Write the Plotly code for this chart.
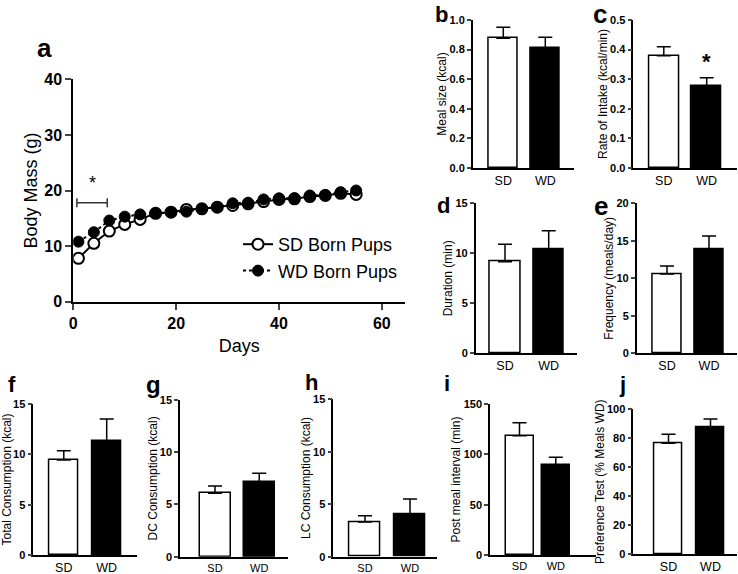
import plotly.graph_objects as go

W, H = 738, 574
FONT = "Liberation Sans, Arial, sans-serif"

# ---------------- data ----------------
days = [1, 4, 7, 10, 13, 16, 19, 22, 25, 28, 31, 34, 37, 40, 43, 46, 49, 52, 55]
sd_mass = [7.8, 10.5, 12.7, 13.9, 14.8, 15.9, 16.1, 16.6, 16.7, 17.0, 17.3, 17.6, 18.0, 18.4, 18.5, 18.9, 19.1, 19.5, 19.3]
wd_mass = [10.8, 12.5, 14.6, 15.3, 15.7, 15.9, 16.1, 16.2, 16.7, 17.0, 17.7, 17.8, 18.4, 18.6, 18.6, 19.1, 19.2, 19.7, 20.0]

groups = ["SD", "WD"]
meal_size = [0.876, 0.813];      meal_size_err = [0.075, 0.070]
rate_intake = [0.379, 0.277];    rate_intake_err = [0.031, 0.028]
duration = [9.16, 10.4];         duration_err = [1.74, 1.86]
frequency = [10.57, 13.9];       frequency_err = [1.07, 1.74]
total_cons = [9.44, 11.3];       total_cons_err = [0.92, 2.2]
dc_cons = [6.07, 7.18];          dc_cons_err = [0.70, 0.80]
lc_cons = [3.31, 4.04];          lc_cons_err = [0.60, 1.46]
post_meal = [118.5, 89.4];       post_meal_err = [12.9, 7.6]
preference = [76.5, 87.3];       preference_err = [6.2, 6.0]

fig = go.Figure()

def px_x(p):
    return p / W

def px_y(p):
    return 1 - p / H

layout = {}

# ---------------- panel a ----------------
fig.add_trace(go.Scatter(
    x=days, y=sd_mass, mode="lines+markers", name="SD Born Pups",
    line=dict(color="black", width=2),
    marker=dict(symbol="circle", size=11, color="white", line=dict(color="black", width=2)),
    xaxis="x", yaxis="y"))
fig.add_trace(go.Scatter(
    x=days, y=wd_mass, mode="lines+markers", name="WD Born Pups",
    line=dict(color="black", width=2, dash="dot"),
    marker=dict(symbol="circle", size=11, color="black", line=dict(color="black", width=1)),
    xaxis="x", yaxis="y"))

layout["xaxis"] = dict(
    domain=[px_x(73.3), px_x(405)], range=[0, 64.5], anchor="y",
    tickvals=[0, 20, 40, 60], ticks="outside", ticklen=6, tickwidth=2,
    showline=True, linewidth=2, linecolor="black", showgrid=False, zeroline=False,
    tickfont=dict(family=FONT, size=16, color="black", weight="bold"),
    title=dict(text="Days", font=dict(family=FONT, size=18, color="black"), standoff=8),
    automargin=False)
layout["yaxis"] = dict(
    domain=[px_y(301.7), px_y(79.3)], range=[0, 40], anchor="x",
    tickvals=[0, 10, 20, 30, 40], ticks="outside", ticklen=6, tickwidth=2,
    showline=True, linewidth=2, linecolor="black", showgrid=False, zeroline=False,
    tickfont=dict(family=FONT, size=16, color="black", weight="bold"),
    title=dict(text="Body Mass (g)", font=dict(family=FONT, size=18, color="black"), standoff=2),
    automargin=False)

shapes = [
    dict(type="line", xref="x", yref="y", x0=0.7, x1=6.6, y0=17.8, y1=17.8, line=dict(color="#333", width=1.5)),
    dict(type="line", xref="x", yref="y", x0=0.7, x1=0.7, y0=17.0, y1=18.6, line=dict(color="#333", width=1.5)),
    dict(type="line", xref="x", yref="y", x0=6.6, x1=6.6, y0=17.0, y1=18.6, line=dict(color="#333", width=1.5)),
]
annotations = [
    dict(text="*", xref="x", yref="y", x=3.8, y=19.2, showarrow=False, yanchor="bottom",
         font=dict(family=FONT, size=18, color="black")),
]

# ---------------- bar panels ----------------
# (values, errors, y title, ymax, dtick, fmt, x0, x1, sd_center, wd_center, bar_px, top, bottom, cat font size)
panels = [
    (meal_size, meal_size_err, "Meal size (kcal)", 1.0, 0.2, ".1f", 472.7, 574, 503.3, 545.3, 28.5, 20, 168, 12.5),
    (rate_intake, rate_intake_err, "Rate of Intake (kcal/min)", 0.5, 0.1, ".1f", 633.3, 736.7, 663.8, 706.7, 30, 20, 168, 12.5),
    (duration, duration_err, "Duration (min)", 15, 5, "d", 475.7, 577, 505, 548.7, 30.5, 203.3, 353.3, 12.5),
    (frequency, frequency_err, "Frequency (meals/day)", 20, 5, "d", 636.7, 737, 667, 709, 29, 203.3, 353.3, 12.5),
    (total_cons, total_cons_err, "Total Consumption (kcal)", 15, 5, "d", 33.3, 136.7, 63.8, 106.7, 29.5, 404, 555, 12.5),
    (dc_cons, dc_cons_err, "DC Consumption (kcal)", 15, 5, "d", 180, 288, 215, 259.2, 31, 400, 556.7, 11),
    (lc_cons, lc_cons_err, "LC Consumption (kcal)", 15, 5, "d", 333.3, 437, 365, 410, 31.5, 399.3, 556.7, 11),
    (post_meal, post_meal_err, "Post meal interval (min)", 150, 50, "d", 490, 596, 519.5, 555.8, 28, 404, 555, 11),
    (preference, preference_err, "Preference Test (% Meals WD)", 100, 20, "d", 633.3, 737, 668.5, 710.5, 28.5, 409.3, 554, 12.5),
]

for i, (vals, errs, ttl, ymax, dt, fmt, x0, x1, sdc, wdc, bpx, top, bot, cfs) in enumerate(panels):
    n = i + 2
    s = wdc - sdc
    lo = -(sdc - x0) / s
    hi = 1 + (x1 - wdc) / s
    fig.add_trace(go.Bar(
        x=[0, 1], y=vals, width=bpx / s,
        marker=dict(color=["white", "black"], line=dict(color="black", width=1.5)),
        error_y=dict(type="data", symmetric=False, array=errs, arrayminus=[0, 0],
                     color="black", thickness=1.5, width=7),
        showlegend=False, xaxis=f"x{n}", yaxis=f"y{n}"))
    layout[f"xaxis{n}"] = dict(
        domain=[px_x(x0), px_x(x1)], range=[lo, hi], anchor=f"y{n}",
        tickvals=[0, 1], ticktext=groups, ticks="",
        showline=True, linewidth=1.5, linecolor="black", showgrid=False, zeroline=False,
        tickfont=dict(family=FONT, size=cfs, color="black"), automargin=False)
    layout[f"yaxis{n}"] = dict(
        domain=[px_y(bot), px_y(top)], range=[0, ymax], anchor=f"x{n}",
        dtick=dt, tick0=0, tickformat=fmt, ticks="outside", ticklen=4, tickwidth=1.5,
        showline=True, linewidth=1.5, linecolor="black", showgrid=False, zeroline=False,
        tickfont=dict(family=FONT, size=11, color="black", weight="bold"),
        title=dict(text=ttl, font=dict(family=FONT, size=12, color="black"), standoff=0),
        automargin=False)

# star on panel c
annotations.append(dict(text="*", xref="x3", yref="y3", x=1, y=0.31, showarrow=False, yanchor="bottom",
                        font=dict(family=FONT, size=22, color="black", weight="bold")))

# panel letters
letters = [("a", 44, 48, 26), ("b", 441, 14, 22), ("c", 600, 14, 26), ("d", 443, 206, 22),
           ("e", 601, 206, 26), ("f", 12, 384, 22), ("g", 153, 384, 24), ("h", 311, 382, 22),
           ("i", 447, 383, 22), ("j", 622, 384, 22)]
for t, lx, ly, fs in letters:
    annotations.append(dict(text=t, xref="paper", yref="paper", x=px_x(lx), y=px_y(ly),
                            showarrow=False, xanchor="center", yanchor="middle",
                            font=dict(family=FONT, size=fs, color="black", weight="bold")))

fig.update_layout(
    width=W, height=H, margin=dict(l=0, r=0, t=0, b=0),
    paper_bgcolor="white", plot_bgcolor="white",
    showlegend=True,
    legend=dict(x=px_x(238), y=px_y(226), xanchor="left", yanchor="top",
                font=dict(family=FONT, size=18, color="black"), bgcolor="rgba(0,0,0,0)"),
    shapes=shapes, annotations=annotations,
    bargap=0, **layout)

fig.write_html("out.html", config={"displayModeBar": False},
               post_script="document.body.style.margin='0';document.body.style.overflow='hidden';")
